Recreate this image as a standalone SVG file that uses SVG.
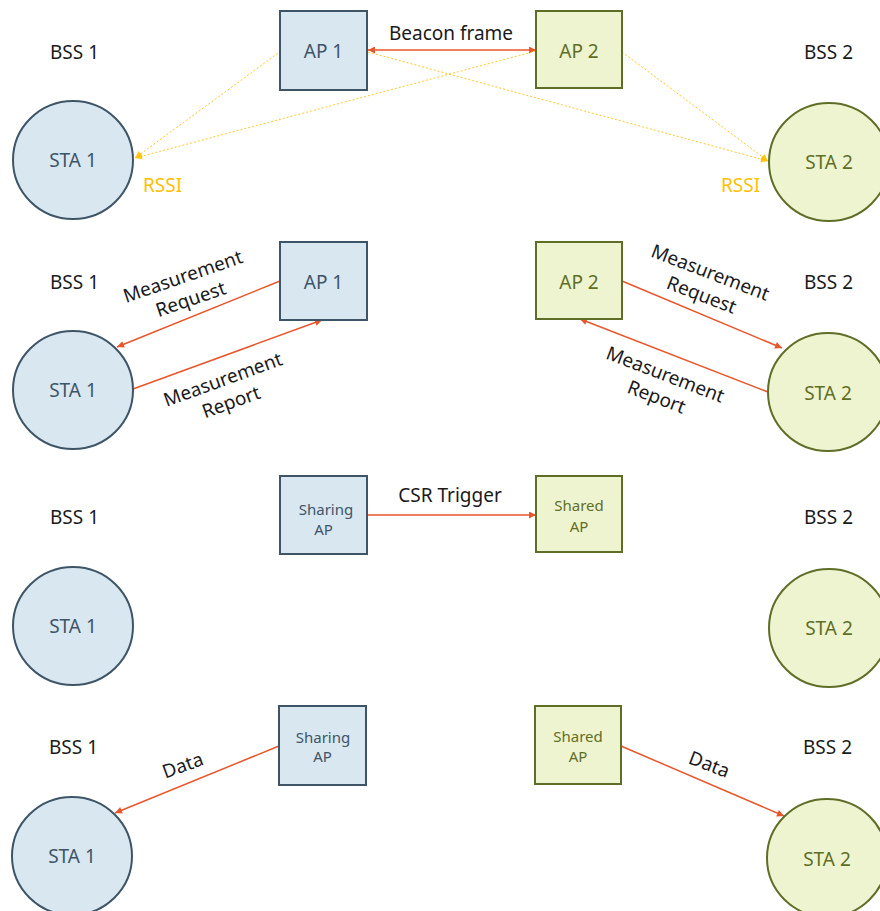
<svg xmlns="http://www.w3.org/2000/svg" width="880" height="911" viewBox="0 0 880 911">
  <defs>
    <marker id="ah-red" viewBox="0 0 10 10" refX="10" refY="5" markerWidth="9" markerHeight="7" markerUnits="userSpaceOnUse" orient="auto-start-reverse">
      <path d="M0,0 L10,5 L0,10 z" fill="#E8562A"/>
    </marker>
    <marker id="ah-gold" viewBox="0 0 10 10" refX="10" refY="5" markerWidth="9" markerHeight="7" markerUnits="userSpaceOnUse" orient="auto">
      <path d="M0,0 L10,5 L0,10 z" fill="#FFC000"/>
    </marker>
    <style>
      text { font-family: "Noto Sans", "Open Sans", sans-serif; font-size: 19px; }
      .lbl { fill: #1a1a1a; }
      .mid { text-anchor: middle; }
      .rssi { fill: #FFC000; }
      .b-shape { fill: #D9E7F0; stroke: #3E5567; stroke-width: 2; }
      .g-shape { fill: #EFF4D0; stroke: #5F6E27; stroke-width: 2; }
      .b-txt { fill: #3E5567; text-anchor: middle; }
      .g-txt { fill: #5F6E27; text-anchor: middle; }
      .small { font-size: 15px; }
      .msg { stroke: #E8562A; stroke-width: 1.5; fill: none; }
      .beam { stroke: #FFC000; stroke-width: 1; stroke-dasharray: 2 2; fill: none; opacity: 0.85; }
    </style>
  </defs>
  <rect width="880" height="911" fill="#ffffff"/>

  <!-- connectors -->
  <g id="connectors">
    <!-- row 1: beacon and RSSI -->
    <line class="msg" x1="368" y1="50" x2="536" y2="50" marker-start="url(#ah-red)" marker-end="url(#ah-red)"/>
    <line class="beam" x1="281" y1="51" x2="135" y2="158" marker-end="url(#ah-gold)"/>
    <line class="beam" x1="536" y1="51" x2="135" y2="158" marker-end="url(#ah-gold)"/>
    <line class="beam" x1="368" y1="52" x2="768" y2="161" marker-end="url(#ah-gold)"/>
    <line class="beam" x1="622" y1="52" x2="768" y2="161" marker-end="url(#ah-gold)"/>
    <!-- row 2: measurement exchange -->
    <line class="msg" x1="280" y1="281" x2="117" y2="347" marker-end="url(#ah-red)"/>
    <line class="msg" x1="133" y1="389" x2="322" y2="320" marker-end="url(#ah-red)"/>
    <line class="msg" x1="622" y1="281" x2="782" y2="348" marker-end="url(#ah-red)"/>
    <line class="msg" x1="768" y1="392" x2="580" y2="319" marker-end="url(#ah-red)"/>
    <!-- row 3: CSR trigger -->
    <line class="msg" x1="367" y1="515" x2="536" y2="515" marker-end="url(#ah-red)"/>
    <!-- row 4: data -->
    <line class="msg" x1="279" y1="746" x2="115" y2="813" marker-end="url(#ah-red)"/>
    <line class="msg" x1="621" y1="746" x2="784" y2="816" marker-end="url(#ah-red)"/>
  </g>

  <!-- connector labels -->
  <g id="labels">
    <text class="lbl mid" x="451" y="40">Beacon frame</text>
    <text class="rssi" x="143" y="192">RSSI</text>
    <text class="rssi" x="721" y="192">RSSI</text>
    <g transform="translate(183,277) rotate(-19)">
      <text class="lbl mid" x="0" y="6">Measurement</text>
      <text class="lbl mid" x="0" y="30">Request</text>
    </g>
    <g transform="translate(223,380) rotate(-20)">
      <text class="lbl mid" x="0" y="6">Measurement</text>
      <text class="lbl mid" x="0" y="30">Report</text>
    </g>
    <g transform="translate(710,273) rotate(21)">
      <text class="lbl mid" x="0" y="6">Measurement</text>
      <text class="lbl mid" x="0" y="30">Request</text>
    </g>
    <g transform="translate(665,375) rotate(21)">
      <text class="lbl mid" x="0" y="6">Measurement</text>
      <text class="lbl mid" x="0" y="30">Report</text>
    </g>
    <text class="lbl mid" x="450" y="502">CSR Trigger</text>
    <text class="lbl mid" transform="translate(183,766) rotate(-20)" x="0" y="6">Data</text>
    <text class="lbl mid" transform="translate(709,765) rotate(21)" x="0" y="6">Data</text>
  </g>

  <!-- BSS labels -->
  <g id="bss-labels">
    <text class="lbl" x="50" y="59">BSS 1</text>
    <text class="lbl" x="804" y="59">BSS 2</text>
    <text class="lbl" x="50" y="289">BSS 1</text>
    <text class="lbl" x="804" y="289">BSS 2</text>
    <text class="lbl" x="50" y="524">BSS 1</text>
    <text class="lbl" x="804" y="524">BSS 2</text>
    <text class="lbl" x="49" y="754">BSS 1</text>
    <text class="lbl" x="803" y="754">BSS 2</text>
  </g>

  <!-- row 1 nodes -->
  <g id="ap1-r1"><rect class="b-shape" x="280" y="11" width="87" height="79"/><text class="b-txt" x="323.5" y="58">AP 1</text></g>
  <g id="ap2-r1"><rect class="g-shape" x="536" y="11" width="86" height="77"/><text class="g-txt" x="579" y="58">AP 2</text></g>
  <g id="sta1-r1"><ellipse class="b-shape" cx="73" cy="160" rx="60" ry="59"/><text class="b-txt" x="73" y="167">STA 1</text></g>
  <g id="sta2-r1"><ellipse class="g-shape" cx="829" cy="162" rx="60" ry="59"/><text class="g-txt" x="829" y="169">STA 2</text></g>

  <!-- row 2 nodes -->
  <g id="ap1-r2"><rect class="b-shape" x="280" y="242" width="87" height="78"/><text class="b-txt" x="323.5" y="289">AP 1</text></g>
  <g id="ap2-r2"><rect class="g-shape" x="536" y="242" width="86" height="77"/><text class="g-txt" x="579" y="289">AP 2</text></g>
  <g id="sta1-r2"><ellipse class="b-shape" cx="73" cy="390" rx="60" ry="59"/><text class="b-txt" x="73" y="397">STA 1</text></g>
  <g id="sta2-r2"><ellipse class="g-shape" cx="828" cy="392" rx="60" ry="59"/><text class="g-txt" x="828" y="400">STA 2</text></g>

  <!-- row 3 nodes -->
  <g id="sharing-r3"><rect class="b-shape" x="280" y="476" width="87" height="78"/><text class="b-txt small" x="326" y="515">Sharing</text><text class="b-txt small" x="323.5" y="535">AP</text></g>
  <g id="shared-r3"><rect class="g-shape" x="536" y="476" width="86" height="76"/><text class="g-txt small" x="579" y="511">Shared</text><text class="g-txt small" x="579" y="532">AP</text></g>
  <g id="sta1-r3"><ellipse class="b-shape" cx="73" cy="626" rx="60" ry="59"/><text class="b-txt" x="73" y="633">STA 1</text></g>
  <g id="sta2-r3"><ellipse class="g-shape" cx="829" cy="628" rx="60" ry="59"/><text class="g-txt" x="829" y="635">STA 2</text></g>

  <!-- row 4 nodes -->
  <g id="sharing-r4"><rect class="b-shape" x="279" y="706" width="87" height="79"/><text class="b-txt small" x="323" y="743">Sharing</text><text class="b-txt small" x="322.5" y="762">AP</text></g>
  <g id="shared-r4"><rect class="g-shape" x="535" y="706" width="86" height="78"/><text class="g-txt small" x="578" y="742">Shared</text><text class="g-txt small" x="578" y="762">AP</text></g>
  <g id="sta1-r4"><ellipse class="b-shape" cx="72" cy="856" rx="60" ry="59"/><text class="b-txt" x="72" y="863">STA 1</text></g>
  <g id="sta2-r4"><ellipse class="g-shape" cx="827" cy="858" rx="60" ry="59"/><text class="g-txt" x="827" y="866">STA 2</text></g>
</svg>
